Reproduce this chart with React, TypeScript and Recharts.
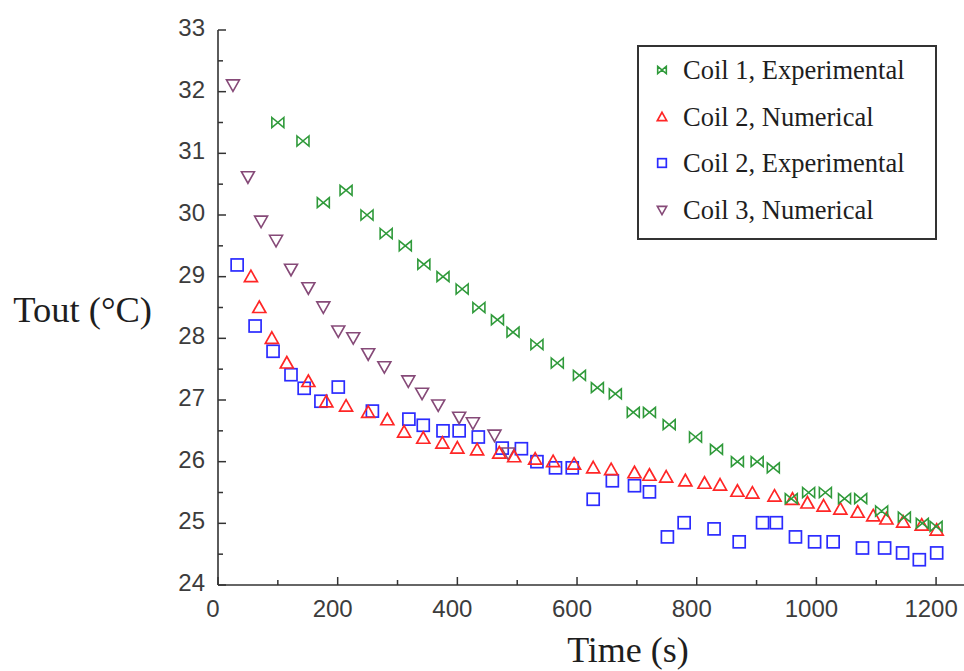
import React from 'react';
import { ScatterChart, Scatter, XAxis, YAxis, Legend } from 'recharts';

// readings taken off the figure: time (s) vs outlet temperature (°C)
const coil1Experimental = [
  { t: 100, tout: 31.5 }, { t: 142, tout: 31.2 }, { t: 176, tout: 30.2 }, { t: 214, tout: 30.4 },
  { t: 249, tout: 30.0 }, { t: 281, tout: 29.7 }, { t: 313, tout: 29.5 }, { t: 344, tout: 29.2 },
  { t: 376, tout: 29.0 }, { t: 408, tout: 28.8 }, { t: 436, tout: 28.5 }, { t: 467, tout: 28.3 },
  { t: 493, tout: 28.1 }, { t: 533, tout: 27.9 }, { t: 567, tout: 27.6 }, { t: 604, tout: 27.4 },
  { t: 634, tout: 27.2 }, { t: 664, tout: 27.1 }, { t: 694, tout: 26.8 }, { t: 721, tout: 26.8 },
  { t: 754, tout: 26.6 }, { t: 798, tout: 26.4 }, { t: 833, tout: 26.2 }, { t: 868, tout: 26.0 },
  { t: 901, tout: 26.0 }, { t: 928, tout: 25.9 }, { t: 958, tout: 25.4 }, { t: 987, tout: 25.5 },
  { t: 1015, tout: 25.5 }, { t: 1047, tout: 25.4 }, { t: 1074, tout: 25.4 }, { t: 1109, tout: 25.2 },
  { t: 1147, tout: 25.1 }, { t: 1177, tout: 25.0 }, { t: 1200, tout: 24.95 },
];

const coil2Numerical = [
  { t: 55, tout: 29.0 }, { t: 69, tout: 28.5 }, { t: 90, tout: 28.0 }, { t: 115, tout: 27.6 },
  { t: 151, tout: 27.3 }, { t: 181, tout: 26.97 }, { t: 214, tout: 26.9 }, { t: 251, tout: 26.8 },
  { t: 283, tout: 26.68 }, { t: 311, tout: 26.48 }, { t: 343, tout: 26.38 }, { t: 375, tout: 26.3 },
  { t: 400, tout: 26.22 }, { t: 433, tout: 26.19 }, { t: 470, tout: 26.14 }, { t: 495, tout: 26.08 },
  { t: 530, tout: 26.04 }, { t: 560, tout: 26.0 }, { t: 595, tout: 25.96 }, { t: 627, tout: 25.9 },
  { t: 657, tout: 25.87 }, { t: 696, tout: 25.82 }, { t: 721, tout: 25.78 }, { t: 749, tout: 25.75 },
  { t: 781, tout: 25.69 }, { t: 813, tout: 25.65 }, { t: 839, tout: 25.62 }, { t: 868, tout: 25.52 },
  { t: 893, tout: 25.49 }, { t: 930, tout: 25.44 }, { t: 960, tout: 25.39 }, { t: 985, tout: 25.33 },
  { t: 1012, tout: 25.28 }, { t: 1040, tout: 25.23 }, { t: 1069, tout: 25.18 }, { t: 1095, tout: 25.12 },
  { t: 1117, tout: 25.07 }, { t: 1145, tout: 25.02 }, { t: 1176, tout: 24.97 }, { t: 1201, tout: 24.89 },
];

const coil2Experimental = [
  { t: 32, tout: 29.19 }, { t: 62, tout: 28.2 }, { t: 92, tout: 27.79 }, { t: 122, tout: 27.41 },
  { t: 144, tout: 27.19 }, { t: 172, tout: 26.98 }, { t: 201, tout: 27.21 }, { t: 258, tout: 26.82 },
  { t: 319, tout: 26.69 }, { t: 343, tout: 26.59 }, { t: 376, tout: 26.5 }, { t: 403, tout: 26.5 },
  { t: 435, tout: 26.4 }, { t: 475, tout: 26.22 }, { t: 507, tout: 26.21 }, { t: 533, tout: 26.0 },
  { t: 564, tout: 25.9 }, { t: 592, tout: 25.9 }, { t: 627, tout: 25.39 }, { t: 659, tout: 25.69 },
  { t: 696, tout: 25.61 }, { t: 721, tout: 25.51 }, { t: 751, tout: 24.78 }, { t: 779, tout: 25.01 },
  { t: 829, tout: 24.91 }, { t: 871, tout: 24.7 }, { t: 910, tout: 25.01 }, { t: 933, tout: 25.01 },
  { t: 965, tout: 24.78 }, { t: 997, tout: 24.7 }, { t: 1028, tout: 24.7 }, { t: 1077, tout: 24.6 },
  { t: 1114, tout: 24.6 }, { t: 1144, tout: 24.52 }, { t: 1172, tout: 24.41 }, { t: 1201, tout: 24.52 },
];

const coil3Numerical = [
  { t: 25, tout: 32.11 }, { t: 50, tout: 30.62 }, { t: 72, tout: 29.9 }, { t: 97, tout: 29.59 },
  { t: 122, tout: 29.12 }, { t: 151, tout: 28.82 }, { t: 176, tout: 28.51 }, { t: 201, tout: 28.12 },
  { t: 226, tout: 28.01 }, { t: 251, tout: 27.75 }, { t: 278, tout: 27.54 }, { t: 318, tout: 27.31 },
  { t: 341, tout: 27.11 }, { t: 368, tout: 26.92 }, { t: 403, tout: 26.72 }, { t: 426, tout: 26.63 },
  { t: 462, tout: 26.43 }, { t: 485, tout: 26.14 },
];

const seriesNames = ['Coil 1, Experimental', 'Coil 2, Numerical', 'Coil 2, Experimental', 'Coil 3, Numerical'];
const xTicks = [0, 100, 200, 300, 400, 500, 600, 700, 800, 900, 1000, 1100, 1200];
const yTicks = [24, 24.5, 25, 25.5, 26, 26.5, 27, 27.5, 28, 28.5, 29, 29.5, 30, 30.5, 31, 31.5, 32, 32.5, 33];

const AXIS = '#333333';
const GREEN = '#2f9a3a';
const RED = '#ff2626';
const BLUE = '#2b2bff';
const PURPLE = '#864a78';
const tickFont = { fontFamily: '"Liberation Sans", Arial, sans-serif', fontSize: 24, fill: '#3c3c3c' };
const serif = '"Liberation Serif", "Times New Roman", serif';

const Bowtie = ({ cx, cy, s = 1 }: any) => {
  const w = 6 * s, h = 5 * s;
  return (
    <path
      d={`M${cx - w},${cy - h}L${cx},${cy}L${cx - w},${cy + h}ZM${cx + w},${cy - h}L${cx},${cy}L${cx + w},${cy + h}Z`}
      fill="none" stroke={GREEN} strokeWidth={1.6}
    />
  );
};
const TriUp = ({ cx, cy, s = 1 }: any) => (
  <path d={`M${cx},${cy - 6.5 * s}L${cx + 6.5 * s},${cy + 5 * s}L${cx - 6.5 * s},${cy + 5 * s}Z`}
    fill="none" stroke={RED} strokeWidth={1.7} />
);
const Square = ({ cx, cy, s = 1 }: any) => (
  <rect x={cx - 6 * s} y={cy - 6 * s} width={12 * s} height={12 * s}
    fill="none" stroke={BLUE} strokeWidth={1.7} />
);
const TriDown = ({ cx, cy, s = 1 }: any) => (
  <path d={`M${cx - 6.5 * s},${cy - 5 * s}L${cx + 6.5 * s},${cy - 5 * s}L${cx},${cy + 6.5 * s}Z`}
    fill="none" stroke={PURPLE} strokeWidth={1.6} />
);
const markers = [Bowtie, TriUp, Square, TriDown];

const isMajorX = (v: number) => v % 200 === 0;
const isMajorY = (v: number) => v % 1 === 0;

const BottomTick = ({ x, y, payload }: any) => {
  const major = isMajorX(payload.value);
  return (
    <g>
      <line x1={x} y1={y} x2={x} y2={y - (major ? 8 : 5)} stroke={AXIS} strokeWidth={1.5} />
      {major && <text x={x - 5} y={y + 32} textAnchor="middle" {...tickFont}>{payload.value}</text>}
    </g>
  );
};
const TopTick = ({ x, y, payload }: any) => (
  <line x1={x} y1={y} x2={x} y2={y + (isMajorX(payload.value) ? 8 : 5)} stroke={AXIS} strokeWidth={1.5} />
);
const LeftTick = ({ x, y, payload }: any) => {
  const major = isMajorY(payload.value);
  return (
    <g>
      <line x1={x} y1={y} x2={x + (major ? 8 : 5)} y2={y} stroke={AXIS} strokeWidth={1.5} />
      {major && <text x={x - 13} y={y + 6} textAnchor="end" {...tickFont}>{payload.value}</text>}
    </g>
  );
};
const RightTick = ({ x, y, payload }: any) => (
  <line x1={x} y1={y} x2={x - (isMajorY(payload.value) ? 8 : 5)} y2={y} stroke={AXIS} strokeWidth={1.5} />
);

const renderLegend = () => (
  <div style={{
    width: 300, height: 195, boxSizing: 'border-box', border: `2px solid ${AXIS}`, background: '#fff',
    paddingTop: 0, fontFamily: serif, fontSize: 26.5, color: '#1e1e1e',
  }}>
    {seriesNames.map((name, i) => {
      const M = markers[i];
      return (
        <div key={name} style={{ height: 46.5, display: 'flex', alignItems: 'center' }}>
          <svg width={44} height={20} style={{ flex: 'none' }}>
            <M cx={23} cy={10} s={0.72} />
          </svg>
          <span style={{ whiteSpace: 'nowrap', lineHeight: 1 }}>{name}</span>
        </div>
      );
    })}
  </div>
);

export default function App() {
  return (
    <div style={{ position: 'absolute', left: 0, top: 0, width: 964, height: 671, overflow: 'hidden', background: '#fff' }}>
      <ScatterChart width={970} height={671} margin={{ top: 30, right: 4, bottom: 0, left: 158 }}>
        <XAxis
          xAxisId="b" type="number" dataKey="t" domain={[0, 1250]} ticks={xTicks} interval={0}
          height={86} tickSize={0} tickMargin={0} tick={<BottomTick />} tickLine={false}
          axisLine={{ stroke: AXIS, strokeWidth: 1.6 }} allowDataOverflow
          label={{
            content: ({ viewBox }: any) => (
              <text x={viewBox.x + viewBox.width / 2 + 36} y={662} textAnchor="middle"
                fontFamily={serif} fontSize={36} fill="#1e1e1e">Time (s)</text>
            ),
          }}
        />
        <XAxis
          xAxisId="top" orientation="top" type="number" domain={[0, 1250]} ticks={xTicks} interval={0}
          height={0} tickSize={0} tickMargin={0} tick={<TopTick />} tickLine={false}
          axisLine={{ stroke: AXIS, strokeWidth: 1.6 }} allowDataOverflow
        />
        <YAxis
          yAxisId="l" type="number" dataKey="tout" domain={[24, 33]} ticks={yTicks} interval={0}
          width={60} tickSize={0} tickMargin={0} tick={<LeftTick />} tickLine={false}
          axisLine={{ stroke: AXIS, strokeWidth: 1.6 }} allowDataOverflow
          label={{
            content: ({ viewBox }: any) => (
              <text x={viewBox.x - 6} y={322} textAnchor="end"
                fontFamily={serif} fontSize={36.5} fill="#1e1e1e">Tout (°C)</text>
            ),
          }}
        />
        <YAxis
          yAxisId="r" orientation="right" type="number" domain={[24, 33]} ticks={yTicks} interval={0}
          width={0} tickSize={0} tickMargin={0} tick={<RightTick />} tickLine={false}
          axisLine={{ stroke: AXIS, strokeWidth: 1.6 }} allowDataOverflow
        />
        <Scatter xAxisId="b" yAxisId="l" name={seriesNames[2]} data={coil2Experimental}
          shape={(p: any) => <Square cx={p.cx} cy={p.cy} />} isAnimationActive={false} />
        <Scatter xAxisId="b" yAxisId="l" name={seriesNames[3]} data={coil3Numerical}
          shape={(p: any) => <TriDown cx={p.cx} cy={p.cy} />} isAnimationActive={false} />
        <Scatter xAxisId="b" yAxisId="l" name={seriesNames[1]} data={coil2Numerical}
          shape={(p: any) => <TriUp cx={p.cx} cy={p.cy} />} isAnimationActive={false} />
        <Scatter xAxisId="b" yAxisId="l" name={seriesNames[0]} data={coil1Experimental}
          shape={(p: any) => <Bowtie cx={p.cx} cy={p.cy} />} isAnimationActive={false} />
        <Legend
          layout="vertical" align="center" verticalAlign="middle" content={renderLegend}
          wrapperStyle={{ left: 637, top: 45, width: 300, height: 195 }}
        />
      </ScatterChart>
    </div>
  );
}
